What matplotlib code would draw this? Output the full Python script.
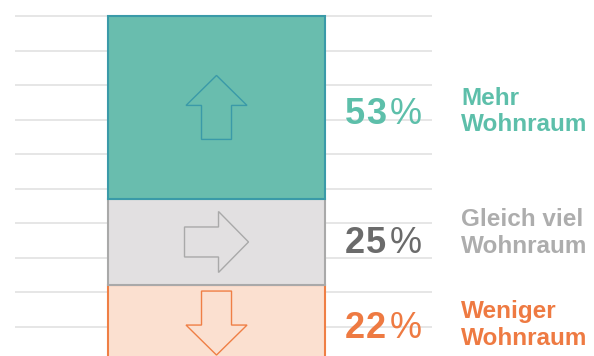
import numpy as np
import matplotlib
matplotlib.use("Agg")
from matplotlib import pyplot as plt
from matplotlib.patches import Polygon
from matplotlib.transforms import ScaledTranslation

plt.rcParams["font.family"] = ["Liberation Sans", "DejaVu Sans"]

# ----------------------------------------------------
# Data (bottom to top of the stacked bar)
# ----------------------------------------------------
labels = ["Weniger\nWohnraum", "Gleich viel\nWohnraum", "Mehr\nWohnraum"]
shares = [22, 25, 53]
directions = ["down", "right", "up"]

fill_colors = ["#FBE0D0", "#E2E0E1", "#69BDAE"]
edge_colors = ["#EF7F45", "#A9A9A9", "#3A9AA8"]
value_colors = ["#EE7A42", "#6B6B6B", "#5DBFAA"]
label_colors = ["#EE7A42", "#ADADAD", "#5DBFAA"]

# arrow outlines in pixels around the centre, y pointing up
ARROW_UP = np.array([
    [0, 32], [30.5, 2], [15, 2], [15, -32],
    [-15, -32], [-15, 2], [-30.5, 2],
])


def arrow_shape(direction):
    if direction == "up":
        return ARROW_UP
    if direction == "down":
        return ARROW_UP * [1, -1]
    # swap axes so the up arrow points right
    return ARROW_UP[:, ::-1]


def value_label(ax, x, y, share, color, size=26):
    # bold digits with a little tracking, then a regular-weight percent sign
    digits = str(share)
    prev = ax.text(x, y, digits[0], color=color, fontsize=size,
                   fontweight="bold", ha="left", va="center_baseline")
    for ch in digits[1:]:
        prev = ax.annotate(ch, xy=(1, 0), xycoords=prev, xytext=(0.5, 0),
                           textcoords="offset points", color=color,
                           fontsize=size, fontweight="bold",
                           ha="left", va="bottom")
    ax.annotate("%", xy=(1, 0), xycoords=prev, xytext=(2.5, 0),
                textcoords="offset points", color=color, fontsize=size,
                ha="left", va="bottom")


def main() -> None:

    fig = plt.figure(figsize=(5.94, 3.56), dpi=100)
    ax = fig.add_axes([15 / 594, 0, 417 / 594, 1])

    ax.set_xlim(-0.9286, 0.993)
    ax.set_ylim(1.45, 104.64)

    # horizontal guide lines every 10 %
    ax.set_yticks(np.arange(10, 101, 10))
    ax.yaxis.grid(True, color="#E4E4E4", linewidth=1.3)
    ax.set_axisbelow(True)
    ax.tick_params(left=False, bottom=False, labelleft=False, labelbottom=False)
    ax.set_xticks([])
    for s in ax.spines.values():
        s.set_visible(False)

    bottoms = np.concatenate([[0], np.cumsum(shares)[:-1]])
    value_nudge = [-0.4, 0.8, -1.0]
    label_nudge = [-0.6, 2.6, -1.2]

    for share, bottom, fc, ec, vc, lc, lab, d, vn, ln in zip(
            shares, bottoms, fill_colors, edge_colors, value_colors,
            label_colors, labels, directions, value_nudge, label_nudge):

        ax.bar(0, share, bottom=bottom, width=1.0, color=fc,
               edgecolor=ec, linewidth=1.5, zorder=2)

        mid = bottom + share / 2

        # outlined arrow in the middle of the segment
        trans = fig.dpi_scale_trans + ScaledTranslation(0, mid, ax.transData)
        arrow = Polygon(arrow_shape(d) / 100.0, closed=True, facecolor="none",
                        edgecolor=ec, linewidth=1.0, transform=trans, zorder=3)
        ax.add_patch(arrow)

        value_label(ax, 0.592, mid + vn, share, vc)

        ax.text(1.127, mid + ln, lab, color=lc, fontsize=17.5,
                fontweight="bold", ha="left", va="center", linespacing=1.2)

    fig.savefig("out.png", dpi=100)
    plt.close(fig)


if __name__ == "__main__":
    main()
